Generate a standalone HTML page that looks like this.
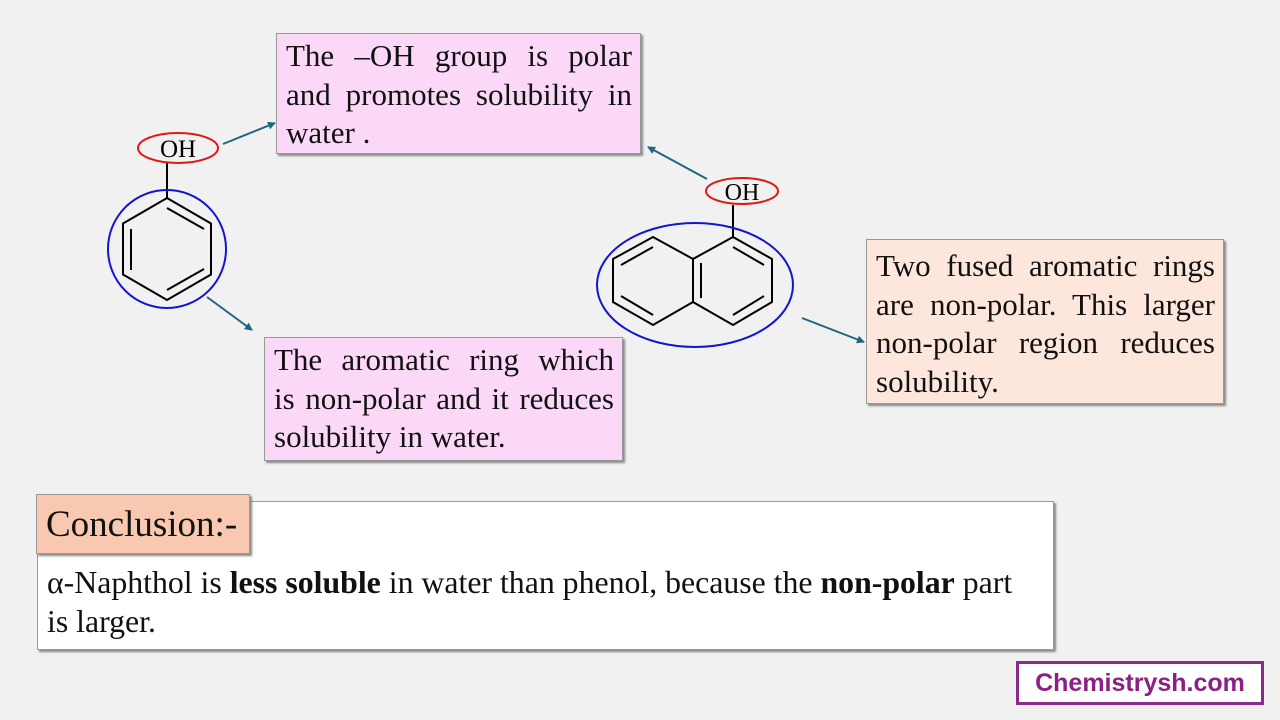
<!DOCTYPE html>
<html><head><meta charset="utf-8"><style>
body{margin:0;width:1280px;height:720px;background:#f1f1f1;position:relative;overflow:hidden;font-family:"Liberation Serif",serif;color:#111}
.b{position:absolute;box-sizing:border-box;border:1px solid #999;box-shadow:2px 2px 2px #888;font-size:31px;line-height:38.5px;text-align:justify;padding:3px 8px 0 9px}
.pk{background:#fcd8f8}
.pe{background:#fde6dc}
.j{display:block;text-align:justify;text-align-last:justify}
svg{position:absolute;left:0;top:0}
</style></head><body>
<svg width="1280" height="720">
<defs><marker id="a" markerWidth="8" markerHeight="8" refX="7" refY="4" orient="auto" markerUnits="userSpaceOnUse"><path d="M0,0 L8,4 L0,8z" fill="#1f6680"/></marker></defs>
<g stroke="#000" stroke-width="2" fill="none">
<polygon points="167,198 211,223.5 211,274.5 167,300 123,274.5 123,223.5"/>
<line x1="167" y1="208" x2="204" y2="229"/><line x1="131" y1="229" x2="131" y2="270"/><line x1="167" y1="290" x2="204" y2="269"/>
<line x1="167" y1="163" x2="167" y2="198"/>
<polygon points="733,237 772,259 772,302 733,325 693,302 693,259"/>
<polyline points="693,259 653,237 613,259 613,302 653,325 693,302"/>
<line x1="733" y1="247" x2="764" y2="265"/><line x1="764" y1="296" x2="733" y2="315"/><line x1="701" y1="263" x2="701" y2="298"/>
<line x1="653" y1="247" x2="621" y2="265"/><line x1="621" y1="296" x2="653" y2="315"/>
<line x1="733" y1="205" x2="733" y2="237"/>
</g>
<circle cx="167" cy="249" r="59" fill="none" stroke="#1414d0" stroke-width="2"/>
<ellipse cx="695" cy="285" rx="98" ry="62" fill="none" stroke="#1414d0" stroke-width="2"/>
<ellipse cx="178" cy="148" rx="40" ry="15" fill="#f1f1f1" stroke="#e01818" stroke-width="2"/>
<ellipse cx="742" cy="191" rx="36" ry="13" fill="#f1f1f1" stroke="#e01818" stroke-width="2"/>
<text x="178" y="157" font-size="25" text-anchor="middle" font-family="Liberation Serif">OH</text>
<text x="742" y="200" font-size="24" text-anchor="middle" font-family="Liberation Serif">OH</text>
<g stroke="#1f6680" stroke-width="2" marker-end="url(#a)">
<line x1="223" y1="144" x2="275" y2="123"/>
<line x1="207" y1="297" x2="252" y2="330"/>
<line x1="707" y1="179" x2="648" y2="147"/>
<line x1="802" y1="318" x2="864" y2="342"/>
</g>
</svg>
<div class="b pk" style="left:276px;top:33px;width:365px;height:121px">The –OH group is polar and promotes solubility in water .</div>
<div class="b pk" style="left:264px;top:337px;width:359px;height:124px"><span class="j">The aromatic ring which</span><span class="j">is non-polar and it reduces</span><span style="display:block">solubility in water.</span></div>
<div class="b pe" style="left:866px;top:239px;width:358px;height:165px;padding-top:7px">Two fused aromatic rings are non-polar. This larger non-polar region reduces solubility.</div>
<div class="b" style="left:37px;top:501px;width:1017px;height:149px;background:#fff;padding:61px 20px 0 9px;text-align:left;line-height:39px;font-size:31.8px">α-Naphthol is <b>less soluble</b> in water than phenol, because the <b>non-polar</b> part<br>is larger.</div>
<div class="b" style="left:36px;top:494px;width:214px;height:60px;background:#f9c8b0;font-size:37px;line-height:60px;padding:0 0 0 9px;text-align:left">Conclusion:-</div>
<div style="position:absolute;left:1016px;top:661px;width:248px;height:44px;box-sizing:border-box;border:3px solid #8b2a8b;background:#fff;color:#8b1f86;font-family:'Liberation Sans',sans-serif;font-weight:bold;font-size:25px;line-height:38px;text-align:center">Chemistrysh.com</div>
</body></html>
